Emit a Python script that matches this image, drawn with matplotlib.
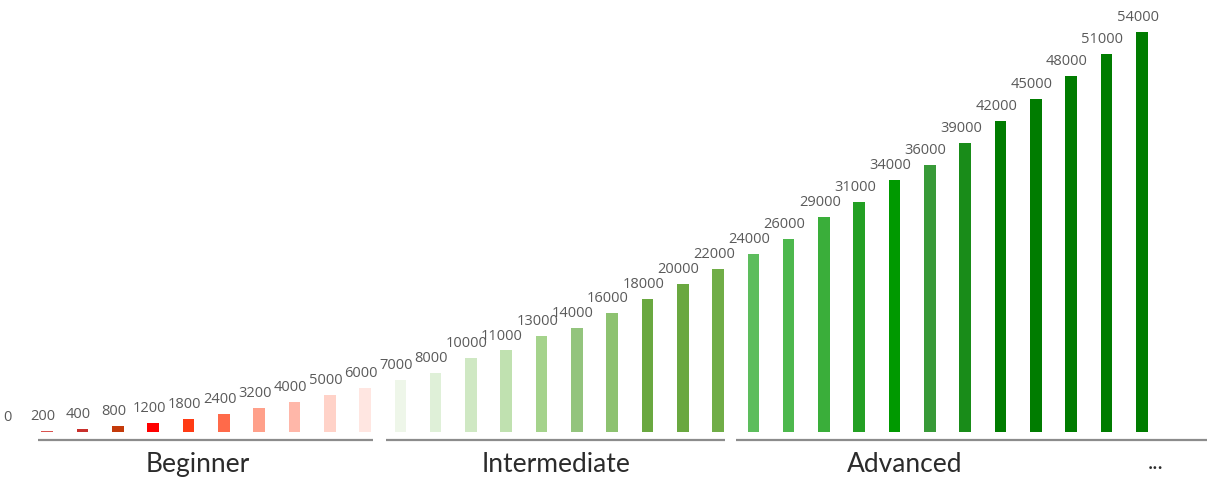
import matplotlib
matplotlib.use('Agg')
from matplotlib import pyplot

# values shown above each bar (first one is the "0" with no bar)
values = [0, 200, 400, 800, 1200, 1800, 2400, 3200, 4000, 5000, 6000,
          7000, 8000, 10000, 11000, 13000, 14000, 16000, 18000, 20000, 22000,
          24000, 26000, 29000, 31000, 34000, 36000, 39000, 42000, 45000,
          48000, 51000, 54000]

bar_colors = ['#d94040', '#d9534f', '#c9302c', '#c43a0a', '#ff0000', '#ff3b14',
              '#ff6a4a', '#ffa08a', '#ffb7a9', '#ffd2c8', '#ffe6e1',
              '#eef6e9', '#dff0d8', '#cfe8c3', '#c0e1b0', '#a5d38c', '#93c47d',
              '#8dc270', '#6aa840', '#6aa840', '#70ad47',
              '#5dbd5d', '#4db84d', '#3aae3a', '#23a023', '#009900', '#389a38',
              '#198c19', '#007c00', '#007c00', '#007c00', '#007c00', '#007c00']

# level groups: name, first/last bar position of the underline, label position
groups = ['Beginner', 'Intermediate', 'Advanced']
group_start = [0.74, 10.6, 20.5]
group_end = [10.23, 20.2, 34.0]
group_label_x = [5.27, 15.4, 25.3]
more_label_x = 32.4

fig = pyplot.figure(figsize=(12.07, 4.8), dpi=100)
ax = fig.add_axes([0, 0, 1, 1])

xs = list(range(len(values)))
ax.bar(xs, values, width=0.33, color=bar_colors, edgecolor='none')

for x, v in zip(xs, values):
    ax.annotate(str(v), (x, v), xytext=(-3, 5), textcoords='offset points',
                ha='center', va='bottom', fontsize=10.5, color='#5a5a5a',
                family='Open Sans')

trans = ax.get_xaxis_transform()
for name, x0, x1, xl in zip(groups, group_start, group_end, group_label_x):
    ax.plot([x0, x1], [0.083, 0.083], transform=trans, color='#8c8c8c',
            linewidth=1.6, solid_capstyle='butt', clip_on=False)
    ax.text(xl, 0.033, name, transform=trans, ha='center', va='center',
            fontsize=19, color='#2b2b2b', family='Lato')
ax.text(more_label_x, 0.036, '...', transform=trans, ha='center', va='center',
        fontsize=16, color='#2b2b2b', family='Lato')

ax.set_xlim(-0.34, 33.85)
ax.set_ylim(-6478, 58300)
ax.axis('off')

pyplot.savefig('out.png', dpi=100, facecolor='white')
